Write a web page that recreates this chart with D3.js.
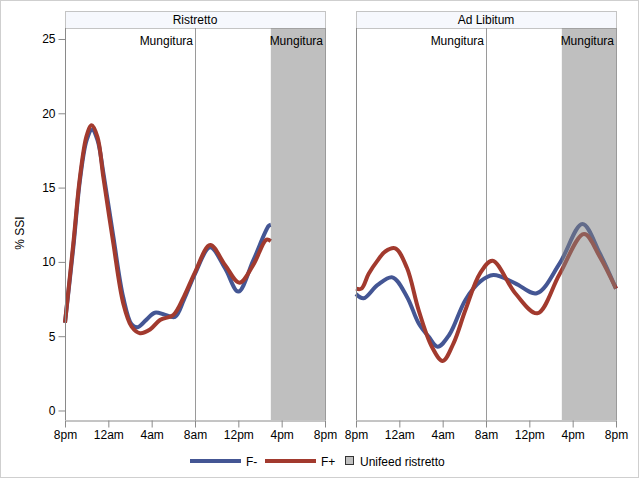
<!DOCTYPE html>
<html><head><meta charset="utf-8">
<script src="https://cdn.jsdelivr.net/npm/d3@7"></script>
<style>body{margin:0;background:#fff}svg text{font-family:"Liberation Sans",Arial,sans-serif;}</style>
</head><body><svg id="c" width="640" height="480"></svg>
<script>
// ---- data ----
const panels = ["Ristretto", "Ad Libitum"];
const seriesNames = ["F-", "F+"];
const seriesColors = ["#445694", "#A23A2E"];
const tickHours = [0, 4, 8, 12, 16, 20, 24];
const tickLabels = ["8pm", "12am", "4am", "8am", "12pm", "4pm", "8pm"];
const yTicks = [0, 5, 10, 15, 20, 25];
const refHours = [12, 24];
const refLabel = "Mungitura";
const bandHours = [19, 24];
const bandLabel = "Unifeed ristretto";

// Ristretto panel (hours after 8pm)
const ristFminusT = [0, 0.77, 1.38, 2.0, 2.5, 3.0, 3.54, 4.46, 5.38, 6.15, 6.7, 7.5, 8.3, 9.2, 10.15, 11.0, 12.0, 13.4, 14.77, 16.0, 17.38, 18.8, 19.0];
const ristFminusV = [5.9, 11.0, 15.5, 18.2, 18.9, 18.2, 16.0, 11.7, 7.6, 5.8, 5.6, 6.1, 6.58, 6.45, 6.3, 7.5, 9.2, 10.98, 9.57, 8.0, 10.1, 12.42, 12.5];
const ristFplusT = [0, 0.77, 1.38, 2.0, 2.46, 3.0, 3.54, 4.46, 5.38, 6.15, 6.92, 7.85, 8.77, 10.0, 11.0, 12.0, 13.4, 14.77, 16.1, 17.38, 18.6, 19.0];
const ristFplusV = [5.9, 11.25, 15.7, 18.5, 19.2, 18.4, 15.7, 11.25, 7.2, 5.64, 5.2, 5.45, 6.09, 6.43, 7.7, 9.3, 11.14, 9.8, 8.6, 9.8, 11.5, 11.4];

// Ad Libitum panel
const adlibFminusT = [0, 0.7, 2.0, 3.36, 4.7, 5.78, 6.7, 7.54, 8.6, 10.1, 11.45, 12.68, 14.7, 16.68, 18.8, 20.9, 22.5, 24];
const adlibFminusV = [7.84, 7.55, 8.45, 8.96, 7.66, 5.87, 4.97, 4.29, 5.08, 7.44, 8.67, 9.12, 8.56, 7.89, 9.9, 12.55, 10.58, 8.2];
const adlibFplusT = [0, 0.5, 1.17, 2.0, 2.7, 3.63, 4.7, 5.78, 7.0, 8.0, 9.0, 10.1, 11.45, 12.6, 14.7, 16.74, 18.8, 21.05, 22.5, 24];
const adlibFplusV = [8.2, 8.2, 9.2, 10.1, 10.7, 10.91, 9.6, 6.76, 4.29, 3.33, 4.52, 6.76, 9.23, 10.08, 7.89, 6.54, 9.19, 11.88, 10.35, 8.2];

const panelData = [
  [[ristFminusT, ristFminusV], [ristFplusT, ristFplusV]],
  [[adlibFminusT, adlibFminusV], [adlibFplusT, adlibFplusV]]
];

// ---- drawing ----
const svg = d3.select("#c");
svg.append("rect").attr("x", 0.5).attr("y", 0.5).attr("width", 638).attr("height", 477)
  .attr("fill", "#fff").attr("stroke", "#cfcfcf");

const plotTop = 28, plotBottom = 420;
const y = d3.scaleLinear().domain([-0.64, 25.74]).range([plotBottom, plotTop]);
const panelX = [[65, 325], [356, 616]];

panels.forEach((name, pi) => {
  const [x0, x1] = panelX[pi];
  const x = d3.scaleLinear().domain([0, 24]).range([x0, x1]);
  const g = svg.append("g");

  // header
  g.append("rect").attr("x", x0 + 0.5).attr("y", 11.5).attr("width", x1 - x0).attr("height", 17)
    .attr("fill", "#f6f8fd").attr("stroke", "#c4c4c4");
  g.append("text").attr("x", (x0 + x1) / 2).attr("y", 24).attr("text-anchor", "middle")
    .attr("font-size", 12).attr("fill", "#000").text(name);

  // reference lines
  refHours.forEach(h => {
    g.append("line").attr("x1", Math.round(x(h)) + 0.5).attr("x2", Math.round(x(h)) + 0.5)
      .attr("y1", plotTop).attr("y2", plotBottom).attr("stroke", "#9a9a9a").attr("stroke-width", 1);
  });

  // series lines
  const line = d3.line().curve(d3.curveCatmullRom.alpha(0.5));
  panelData[pi].forEach(([ts, vs], si) => {
    const pts = ts.map((t, i) => [x(t), y(vs[i])]);
    g.append("path").attr("d", line(pts)).attr("fill", "none")
      .attr("stroke", seriesColors[si]).attr("stroke-width", 4)
      .attr("stroke-linejoin", "round").attr("stroke-linecap", "butt");
  });

  // band (semi-transparent, over lines)
  g.append("rect").attr("x", x(bandHours[0])).attr("y", plotTop)
    .attr("width", x(bandHours[1]) - x(bandHours[0])).attr("height", plotBottom - plotTop)
    .attr("fill", "#808080").attr("fill-opacity", 0.5);

  // ref labels
  refHours.forEach(h => {
    g.append("text").attr("x", x(h) - 2).attr("y", 45).attr("text-anchor", "end")
      .attr("font-size", 12).attr("fill", "#000").text(refLabel);
  });

  // bottom axis
  const xAxis = d3.axisBottom(x).tickValues(tickHours).tickFormat((d, i) => tickLabels[i])
    .tickSizeInner(7).tickSizeOuter(0).tickPadding(3);
  const ax = g.append("g").attr("transform", `translate(0,${plotBottom + 0.5})`).call(xAxis);
  ax.select(".domain").attr("stroke", "#8a8a8a");
  ax.selectAll(".tick line").attr("stroke", "#8a8a8a");
  ax.selectAll(".tick text").attr("font-size", 12).attr("fill", "#000")
    .attr("font-family", "Liberation Sans, Arial, sans-serif");

  g.append("line").attr("x1", x0 + 0.5).attr("x2", x0 + 0.5).attr("y1", plotTop).attr("y2", plotBottom)
    .attr("stroke", "#8a8a8a");

  if (pi === 0) {
    const yAxis = d3.axisLeft(y).tickValues(yTicks).tickSizeInner(7).tickSizeOuter(0).tickPadding(3);
    const ay = g.append("g").attr("transform", `translate(${x0 + 0.5},0)`).call(yAxis);
    ay.select(".domain").remove();
    ay.selectAll(".tick line").attr("stroke", "#8a8a8a");
    ay.selectAll(".tick text").attr("font-size", 12).attr("fill", "#000")
      .attr("font-family", "Liberation Sans, Arial, sans-serif");
  }
});

// y title
svg.append("text").attr("transform", "translate(24,233) rotate(-90)")
  .attr("text-anchor", "middle").attr("font-size", 12).attr("fill", "#000").text("% SSI");

// legend
const lg = svg.append("g");
const ly = 461;
const legendLineX = [190, 265];
seriesNames.forEach((n, i) => {
  const lx = legendLineX[i];
  lg.append("line").attr("x1", lx).attr("x2", lx + 51).attr("y1", ly).attr("y2", ly)
    .attr("stroke", seriesColors[i]).attr("stroke-width", 4);
  lg.append("text").attr("x", lx + 56).attr("y", ly + 4.5).attr("font-size", 12).attr("fill", "#000").text(n);
});
lg.append("rect").attr("x", 345.5).attr("y", 456.5).attr("width", 8).attr("height", 8)
  .attr("fill", "#c0c0c0").attr("stroke", "#333");
lg.append("text").attr("x", 360).attr("y", ly + 4.5).attr("font-size", 12).attr("fill", "#000").text(bandLabel);
</script></body></html>
